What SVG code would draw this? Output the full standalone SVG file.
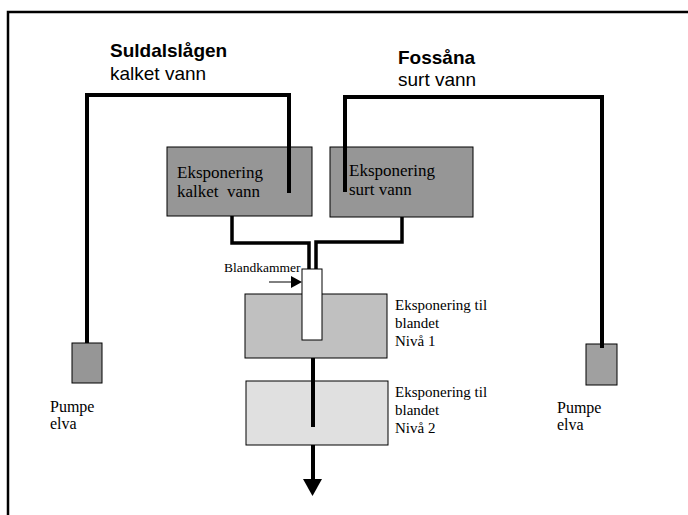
<svg xmlns="http://www.w3.org/2000/svg" width="688" height="515" viewBox="0 0 688 515">
<defs>
<style>
.serif{font-family:"Liberation Serif","Times New Roman",serif;fill:#000}
.sans{font-family:"Liberation Sans",Arial,sans-serif;fill:#000}
.box{stroke:#000;stroke-width:1}
.pipe{fill:none;stroke:#000;stroke-width:4;stroke-linejoin:miter}
.pipe2{fill:none;stroke:#000;stroke-width:3.5}
</style>
</defs>
<rect x="0" y="0" width="688" height="515" fill="#fff"/>
<rect x="8" y="12" width="700" height="520" fill="none" stroke="#000" stroke-width="2.5"/>
<g id="title-left">
<text class="sans" x="110" y="57" font-size="19" font-weight="bold">Suldalslågen</text>
<text class="sans" x="110" y="80" font-size="19">kalket vann</text>
</g>
<g id="title-right">
<text class="sans" x="398" y="64" font-size="19" font-weight="bold">Fossåna</text>
<text class="sans" x="398" y="86" font-size="19">surt vann</text>
</g>
<g id="box-kalket">
<rect class="box" x="167" y="147" width="145" height="69" fill="#969696"/>
<text class="serif" x="177" y="178" font-size="17">Eksponering</text>
<text class="serif" x="177" y="197" font-size="17">kalket&#160; vann</text>
</g>
<g id="box-surt">
<rect class="box" x="330" y="147" width="143" height="70" fill="#969696"/>
<text class="serif" x="349" y="176" font-size="17">Eksponering</text>
<text class="serif" x="349" y="195" font-size="17">surt vann</text>
</g>
<g id="box-niva1">
<rect class="box" x="245" y="294" width="142" height="64" fill="#c0c0c0"/>
<text class="serif" x="395" y="310" font-size="15">Eksponering til</text>
<text class="serif" x="395" y="328" font-size="15">blandet</text>
<text class="serif" x="395" y="346" font-size="15">Nivå 1</text>
</g>
<g id="box-niva2">
<rect class="box" x="246" y="381" width="142" height="64" fill="#e0e0e0"/>
<text class="serif" x="395" y="397" font-size="15">Eksponering til</text>
<text class="serif" x="395" y="415" font-size="15">blandet</text>
<text class="serif" x="395" y="433" font-size="15">Nivå 2</text>
</g>
<g id="pump-left">
<rect class="box" x="72" y="343" width="30" height="40" fill="#969696"/>
<text class="serif" x="50" y="412" font-size="16">Pumpe</text>
<text class="serif" x="50" y="429" font-size="16">elva</text>
</g>
<g id="pump-right">
<rect class="box" x="586" y="344" width="31" height="41" fill="#a0a0a0"/>
<text class="serif" x="557" y="413" font-size="16">Pumpe</text>
<text class="serif" x="557" y="430" font-size="16">elva</text>
</g>
<g id="connectors">
<path class="pipe" d="M87,343 V95 H289 V193"/>
<path class="pipe" d="M345,192 V97 H602 V348"/>
<path class="pipe2" d="M232,216 V243 H309 V269"/>
<path class="pipe2" d="M402,217 V242 H316 V269"/>
<path class="pipe" d="M313,358 V427"/>
<path fill="none" stroke="#000" stroke-width="4" d="M313,445 V480"/>
<path d="M303,479 L322,479 L312.5,496 z" fill="#000"/>
<line x1="269" y1="282" x2="292" y2="282" stroke="#000" stroke-width="1"/>
<path d="M291,276 L302,282 L291,288 z" fill="#000"/>
</g>
<g id="blandkammer">
<rect class="box" x="302" y="269" width="20" height="71" fill="#fff"/>
<text class="serif" x="224" y="272" font-size="13.5">Blandkammer</text>
</g>
</svg>
